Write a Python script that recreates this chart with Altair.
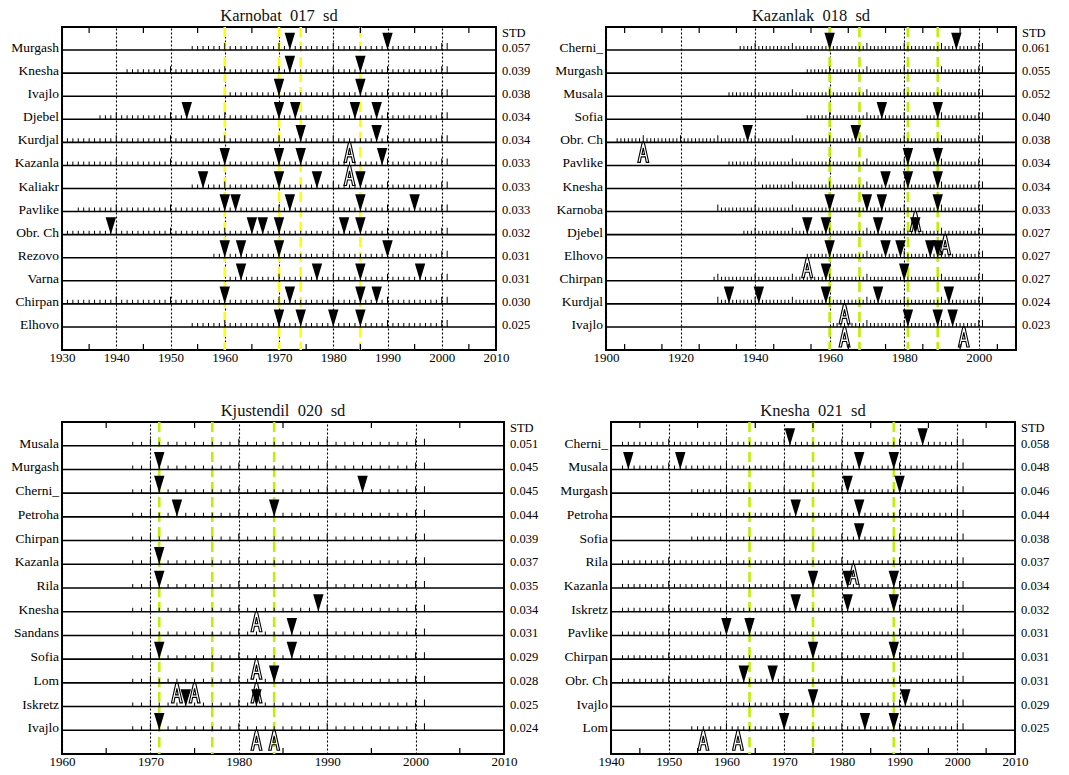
import altair as alt
import pandas as pd

FONT = "Liberation Serif"
END_YEAR = 2001
SP = "\u00a0\u00a0"

# ---------------- Panel 1: Karnobat 017 sd ----------------
p1_title = SP.join(["Karnobat", "017", "sd"])
p1_domain = [1930, 2010]
p1_stations = ["Murgash", "Knesha", "Ivajlo", "Djebel", "Kurdjal", "Kazanla", "Kaliakr",
               "Pavlike", "Obr. Ch", "Rezovo", "Varna", "Chirpan", "Elhovo"]
p1_std = ["0.057", "0.039", "0.038", "0.034", "0.034", "0.033", "0.033",
          "0.033", "0.032", "0.031", "0.031", "0.030", "0.025"]
p1_start = [1954, 1942, 1961, 1937, 1931, 1931, 1954, 1933, 1931, 1958, 1961, 1931, 1954]
p1_tri = [[1972, 1990], [1972, 1985], [1970, 1985], [1953, 1970, 1973, 1984, 1988],
          [1974, 1988], [1960, 1970, 1974, 1989], [1956, 1970, 1977, 1985],
          [1960, 1962, 1972, 1985, 1995], [1939, 1965, 1967, 1970, 1982, 1985],
          [1960, 1963, 1970, 1990], [1963, 1977, 1985, 1996], [1960, 1972, 1985, 1988],
          [1970, 1974, 1980, 1985]]
p1_A = [[], [], [], [], [1983], [1983], [], [], [], [], [], [], []]
p1_breaks = [1960, 1970, 1974, 1985]
p1_labels = [1930, 1940, 1950, 1960, 1970, 1980, 1990, 2000, 2010]
p1_minor = [1935, 1945, 1955, 1965, 1975, 1985, 1995, 2005]

# ---------------- Panel 2: Kazanlak 018 sd ----------------
p2_title = SP.join(["Kazanlak", "018", "sd"])
p2_domain = [1900, 2010]
p2_stations = ["Cherni_", "Murgash", "Musala", "Sofia", "Obr. Ch", "Pavlike", "Knesha",
               "Karnoba", "Djebel", "Elhovo", "Chirpan", "Kurdjal", "Ivajlo"]
p2_std = ["0.061", "0.055", "0.052", "0.040", "0.038", "0.034", "0.034",
          "0.033", "0.027", "0.027", "0.027", "0.024", "0.023"]
p2_start = [1936, 1954, 1933, 1954, 1903, 1933, 1942, 1930, 1937, 1954, 1929, 1930, 1961]
p2_tri = [[1960, 1994], [], [], [1974, 1989], [1938, 1967], [1981, 1989],
          [1975, 1981, 1989], [1960, 1970, 1974, 1989], [1954, 1959, 1973, 1983],
          [1960, 1975, 1979, 1987, 1989], [1959, 1980], [1933, 1941, 1959, 1973, 1992],
          [1981, 1989, 1993]]
p2_A = [[], [], [], [], [1910], [], [], [1983], [1991], [1954], [], [1964], [1964, 1996]]
p2_breaks = [1960, 1968, 1981, 1989]
p2_labels = [1900, 1910, 1920, 1930, 1940, 1950, 1960, 1970, 1980, 1990, 2000, 2010]
p2_minor = [1905, 1915, 1925, 1935, 1945, 1955, 1965, 1975, 1985, 1995, 2005]

# ---------------- Panel 3: Kjustendil 020 sd ----------------
p3_title = SP.join(["Kjustendil", "020", "sd"])
p3_domain = [1960, 2010]
p3_stations = ["Musala", "Murgash", "Cherni_", "Petroha", "Chirpan", "Kazanla", "Rila",
               "Knesha", "Sandans", "Sofia", "Lom", "Iskretz", "Ivajlo"]
p3_std = ["0.051", "0.045", "0.045", "0.044", "0.039", "0.037", "0.035",
          "0.034", "0.031", "0.029", "0.028", "0.025", "0.024"]
p3_start = [1968] * 13
p3_tri = [[], [1971], [1971, 1994], [1973, 1984], [], [1971], [1971], [1989], [1986],
          [1971, 1986], [1984], [1974, 1982], [1971]]
p3_A = [[], [], [], [], [], [], [], [1982], [], [1982], [1973, 1975, 1982], [], [1982, 1984]]
p3_breaks = [1971, 1977, 1984]
p3_labels = [1960, 1970, 1980, 1990, 2000, 2010]
p3_minor = [1965, 1975, 1985, 1995, 2005]

# ---------------- Panel 4: Knesha 021 sd ----------------
p4_title = SP.join(["Knesha", "021", "sd"])
p4_domain = [1940, 2010]
p4_stations = ["Cherni_", "Musala", "Murgash", "Petroha", "Sofia", "Rila", "Kazanla",
               "Iskretz", "Pavlike", "Chirpan", "Obr. Ch", "Ivajlo", "Lom"]
p4_std = ["0.058", "0.048", "0.046", "0.044", "0.038", "0.037", "0.034",
          "0.032", "0.031", "0.031", "0.031", "0.029", "0.025"]
p4_start = [1942, 1942, 1954, 1954, 1954, 1942, 1942, 1942, 1942, 1942, 1942, 1961, 1954]
p4_tri = [[1971, 1994], [1943, 1952, 1983, 1989], [1981, 1990], [1972, 1983], [1983], [],
          [1975, 1981, 1989], [1972, 1981, 1989], [1960, 1964], [1975, 1989], [1963, 1968],
          [1975, 1991], [1970, 1984, 1989]]
p4_A = [[], [], [], [], [], [1982], [], [], [], [], [], [], [1956, 1962]]
p4_breaks = [1964, 1975, 1989]
p4_labels = [1940, 1950, 1960, 1970, 1980, 1990, 2000, 2010]
p4_minor = [1945, 1955, 1965, 1975, 1985, 1995, 2005]

TRI_PATH = "M-0.6,-1L0.6,-1L0,1Z"
A_PATH = ("M-0.55,1L-0.1,-1L0.1,-1L0.55,1L0.3,1L0.2,0.45L-0.2,0.45L-0.3,1Z"
          "M-0.13,0.2L0,-0.45L0.13,0.2Z")


def panel(title, domain, stations, std, start, tri, A, breaks, labels, minor,
          bcolor, W, H):
    n = len(stations)
    yscale = alt.Scale(domain=[0, n + 1], reverse=True, nice=False, zero=False)
    xscale = alt.Scale(domain=domain, nice=False, zero=False)

    rows = pd.DataFrame({"st": stations, "std": std, "idx": list(range(1, n + 1))})
    small, big = [], []
    for i, s in enumerate(start):
        for yr in range(s, END_YEAR + 1):
            rec = {"year": yr, "idx": i + 1}
            if yr % 10 == 0 or yr == END_YEAR:
                big.append(rec)
            else:
                small.append(rec)
    tri_df = pd.DataFrame([{"year": y, "idx": i + 1} for i, ys in enumerate(tri) for y in ys])
    a_df = pd.DataFrame([{"year": y, "idx": i + 1} for i, ys in enumerate(A) for y in ys],
                        columns=["year", "idx"])
    br_df = pd.DataFrame({"year": breaks})
    minor_df = pd.DataFrame({"year": minor})
    lab_df = pd.DataFrame({"year": labels})

    xaxis = alt.Axis(values=labels, format="d", grid=True, gridDash=[2, 2],
                     gridColor="black", gridWidth=1.1, gridOpacity=1, ticks=False,
                     domain=False, labelFont=FONT, labelFontSize=13, labelColor="black",
                     labelPadding=1, labelFlush=False, labelOverlap=False, title=None)

    base_axis = alt.Chart(lab_df).mark_rule(opacity=0).encode(
        x=alt.X("year:Q", scale=xscale, axis=xaxis))

    row_lines = alt.Chart(rows).mark_rule(color="black", strokeWidth=1.6).encode(
        y=alt.Y("idx:Q", scale=yscale, axis=None))

    brk = alt.Chart(br_df).mark_rule(color=bcolor, strokeWidth=2.6,
                                     strokeDash=[10, 5]).encode(
        x=alt.X("year:Q", scale=xscale))

    top_t = alt.Chart(minor_df).mark_rule(color="black", strokeWidth=1.2).encode(
        x=alt.X("year:Q", scale=xscale), y=alt.value(0), y2=alt.value(6))
    bot_t = alt.Chart(minor_df).mark_rule(color="black", strokeWidth=1.2).encode(
        x=alt.X("year:Q", scale=xscale), y=alt.value(H), y2=alt.value(H - 6))

    t_small = alt.Chart(pd.DataFrame(small)).mark_tick(
        orient="vertical", size=4, thickness=1, color="black", opacity=1, yOffset=-2).encode(
        x=alt.X("year:Q", scale=xscale), y=alt.Y("idx:Q", scale=yscale))
    t_big = alt.Chart(pd.DataFrame(big)).mark_tick(
        orient="vertical", size=7, thickness=1, color="black", opacity=1, yOffset=-3.5).encode(
        x=alt.X("year:Q", scale=xscale), y=alt.Y("idx:Q", scale=yscale))

    tris = alt.Chart(tri_df).mark_point(
        shape=TRI_PATH, size=300, filled=True, color="black", opacity=1,
        strokeWidth=0, yOffset=-8.7).encode(
        x=alt.X("year:Q", scale=xscale), y=alt.Y("idx:Q", scale=yscale))

    a_marks = alt.Chart(a_df).mark_point(
        shape=A_PATH, size=400, filled=False, color="black", opacity=1,
        strokeWidth=1.1, yOffset=10).encode(
        x=alt.X("year:Q", scale=xscale), y=alt.Y("idx:Q", scale=yscale))

    names = alt.Chart(rows).mark_text(
        align="right", baseline="middle", dx=-3, dy=-2, font=FONT, fontSize=13.5,
        color="black").encode(x=alt.value(0), y=alt.Y("idx:Q", scale=yscale), text="st:N")
    stds = alt.Chart(rows).mark_text(
        align="left", baseline="middle", dx=6, dy=-2, font=FONT, fontSize=12.5,
        color="black").encode(x=alt.value(W), y=alt.Y("idx:Q", scale=yscale), text="std:N")
    hdr = alt.Chart(pd.DataFrame({"t": ["STD"]})).mark_text(
        align="left", baseline="top", dx=6, dy=0, font=FONT, fontSize=12.5,
        color="black").encode(x=alt.value(W), y=alt.value(0), text="t:N")

    return alt.layer(base_axis, brk, row_lines, top_t, bot_t, t_small, t_big,
                     tris, a_marks, names, stds, hdr).properties(
        width=W, height=H,
        title=alt.TitleParams(title, font=FONT, fontSize=16.5, fontWeight="normal",
                              color="#111111", offset=1, anchor="middle"))


c1 = panel(p1_title, p1_domain, p1_stations, p1_std, p1_start, p1_tri, p1_A, p1_breaks,
           p1_labels, p1_minor, "#ffff00", 434, 323)
c2 = panel(p2_title, p2_domain, p2_stations, p2_std, p2_start, p2_tri, p2_A, p2_breaks,
           p2_labels, p2_minor, "#bff000", 410, 323)
c3 = panel(p3_title, p3_domain, p3_stations, p3_std, p3_start, p3_tri, p3_A, p3_breaks,
           p3_labels, p3_minor, "#bff000", 442, 332)
c4 = panel(p4_title, p4_domain, p4_stations, p4_std, p4_start, p4_tri, p4_A, p4_breaks,
           p4_labels, p4_minor, "#bff000", 404, 332)

row1 = alt.hconcat(c1, c2, spacing=110, bounds="flush")
row2 = alt.hconcat(c3, c4, spacing=107, bounds="flush")

chart = alt.vconcat(row1, row2, spacing=37).properties(
    padding={"left": 10, "top": 7, "right": 5, "bottom": 5},
    background="white",
).configure_view(stroke="black", strokeWidth=2)

chart.save("out.html", embed_options={"renderer": "svg", "actions": False})
